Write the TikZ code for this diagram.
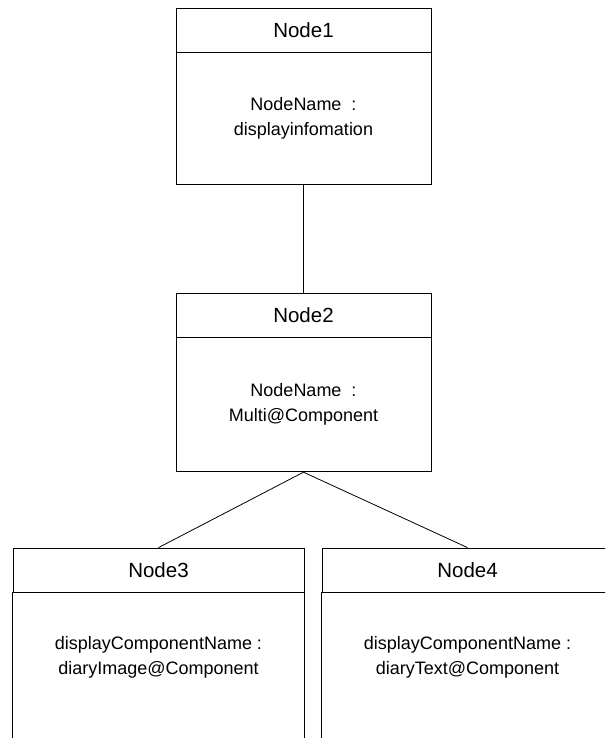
\documentclass[tikz,border=0pt]{standalone}
\usepackage{fontspec}
\setmainfont{Liberation Sans}
\usetikzlibrary{positioning}
\tikzset{%
	head/.style   	= {draw, rectangle, inner sep = 0pt, minimum height = 44pt, font = \fontsize{20.5}{22}\selectfont}, % Header
	body/.style   	= {draw, rectangle, inner sep = 0pt, align = center, font = \fontsize{18}{25}\selectfont}, % Body
	open/.style   	= {rectangle, inner sep = 0pt, align = center, font = \fontsize{18}{25}\selectfont}, % Body without frame
	wide/.style   	= {minimum width = 255pt},
	wider/.style  	= {minimum width = 291pt}
}

\begin{document}
\begin{tikzpicture}[line width = 0.8pt, node distance = 0pt]
	\clip (0pt, 0pt) rectangle (605pt, -738pt);
	% Drawing the boxes
	\draw
	node at (303.5pt, -30pt) [head, wide] (h1) {Node1}
	node [body, wide, minimum height = 132pt, below = of h1] (b1) {NodeName\ \ :\\displayinfomation}
	node at (303.5pt, -315pt) [head, wide] (h2) {Node2}
	node [body, wide, minimum height = 134pt, below = of h2] (b2) {NodeName\ \ :\\Multi@Component}
	node at (158.5pt, -570pt) [head, wider] (h3) {Node3}
	node [open, wider, minimum height = 130pt, below = of h3] (b3) {displayComponentName :\\diaryImage@Component}
	node at (467.5pt, -570pt) [head, wider] (h4) {Node4}
	node [open, wider, minimum height = 130pt, below = of h4] (b4) {displayComponentName :\\diaryText@Component}
	;

	% Open sides of the lower boxes
	\draw (b3.north west) -- ++(0, -170pt);
	\draw (b3.north east) -- ++(0, -170pt);
	\draw (b4.north west) -- ++(0, -170pt);
	\draw (b4.north east) -- ++(0, -170pt);

	% Drawing the links
	\draw (b1) -- (h2);
	\draw (b2.south) -- (h3.north);
	\draw (b2.south) -- (h4.north);
\end{tikzpicture}
\end{document}
